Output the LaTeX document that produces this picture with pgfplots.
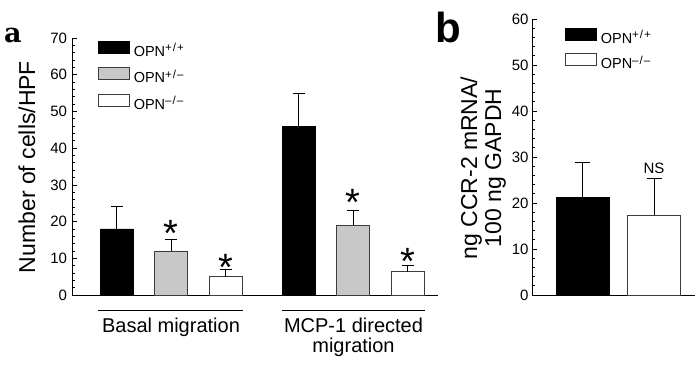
\documentclass[border=0pt]{standalone}
\usepackage{fontspec}
\setmainfont{Liberation Sans}
\newfontfamily\dvserif{DejaVu Serif}
\usepackage{pgfplots}
\usepackage{pgfplotstable}
\pgfplotsset{compat=1.18}

% panel a: x = bar centre position, y = mean, err = upper error
\pgfplotstableread{
x y err
44.5 18 6
226.5 46 9
}\aWT
\pgfplotstableread{
x y err
99 12 3
281 19 4
}\aHET
\pgfplotstableread{
x y err
153.5 5 2
335.5 6.3 1.7
}\aKO
% panel b
\pgfplotstableread{
x y err
50.5 21.3 7.6
}\bWT
\pgfplotstableread{
x y err
122 17.3 8
}\bKO

\definecolor{bargray}{RGB}{200,200,200}
\definecolor{edge}{RGB}{60,60,60}
\newcommand{\fs}[1]{\fontsize{#1}{#1}\selectfont}
\newcommand{\gt}[1]{\raisebox{4.5pt}{\fs{11.5}#1}}

\pgfplotsset{
  common/.style={
    scale only axis,
    axis x line*=bottom, axis y line*=left,
    axis line style={line width=0.9pt, black},
    xtick=\empty,
    tick align=inside,
    major tick length=5pt, minor tick length=2.5pt,
    minor y tick num=4,
    every tick/.style={black, line width=0.7pt},
    /pgf/number format/assume math mode=true,
    yticklabel={\fs{15}\pgfmathprintnumber{\tick}},
    clip=false,
    legend style={draw=none, fill=none, inner sep=0pt, outer sep=0pt,
      anchor=north west, font=\fs{14.5},
      nodes={inner sep=0pt, text height=11pt, text depth=3pt},
      column sep=4pt},
    legend cell align=left,
    legend image code/.code={\draw[##1, line width=0.8pt] (0pt,-1pt) rectangle (31pt,11pt);},
    error bars/error bar style={line width=0.9pt, black},
  },
}

\begin{document}
\begin{tikzpicture}
\useasboundingbox (0,0) rectangle (700pt,364pt);

\begin{axis}[common,
  at={(72pt,69pt)}, anchor=south west,
  width=366pt, height=257pt,
  xmin=0, xmax=366, ymin=0, ymax=70,
  ytick={0,10,...,70},
  yticklabel style={xshift=-1.5pt},
  legend style={at={(axis description cs:0.0710,0.9883)}, row sep=8pt},
  error bars/error mark options={rotate=90, mark size=6pt, line width=0.9pt, black},
]
\addplot[ybar, bar width=33, bar shift=0pt, fill=black, draw=black, line width=0.8pt,
  error bars/.cd, y dir=plus, y explicit] table[x=x, y=y, y error=err] {\aWT};
\addlegendentry{OPN\gt{+\kern1pt/\kern1pt+}}
\addplot[ybar, bar width=33, bar shift=0pt, fill=bargray, draw=edge, line width=0.8pt,
  error bars/.cd, y dir=plus, y explicit] table[x=x, y=y, y error=err] {\aHET};
\addlegendentry{OPN\gt{+\kern1pt/\kern1pt–}}
\addplot[ybar, bar width=33, bar shift=0pt, fill=white, draw=edge, line width=0.8pt,
  error bars/.cd, y dir=plus, y explicit] table[x=x, y=y, y error=err] {\aKO};
\addlegendentry{OPN\gt{–\kern1pt/\kern1pt–}}

\node[anchor=north, inner sep=0pt] at (axis cs:99,20.4) {\fs{38}*};
\node[anchor=north, inner sep=0pt] at (axis cs:153.5,11.2) {\fs{38}*};
\node[anchor=north, inner sep=0pt] at (axis cs:281,28.9) {\fs{38}*};
\node[anchor=north, inner sep=0pt] at (axis cs:335.5,12.8) {\fs{38}*};
\end{axis}

% y label panel a
\node[rotate=90, anchor=base, inner sep=0pt] at (35pt,197pt) {\fs{23}Number of cells/HPF};

% group labels under panel a
\draw[line width=0.8pt] (98pt,54pt) -- (243pt,54pt);
\draw[line width=0.8pt] (282pt,54pt) -- (425pt,54pt);
\node[anchor=base, inner sep=0pt] at (171pt,32pt) {\fs{20}Basal migration};
\node[anchor=base, inner sep=0pt] at (353.5pt,32pt) {\fs{20}MCP-1 directed};
\node[anchor=base, inner sep=0pt] at (353.5pt,12pt) {\fs{20}migration};

\begin{axis}[common,
  at={(532pt,69pt)}, anchor=south west,
  width=163pt, height=276pt,
  xmin=0, xmax=163, ymin=0, ymax=60,
  ytick={0,10,...,60},
  legend style={at={(axis description cs:0.2025,0.9674)}, row sep=7pt},
  error bars/error mark options={rotate=90, mark size=7.5pt, line width=0.9pt, black},
]
\addplot[ybar, bar width=53, bar shift=0pt, fill=black, draw=black, line width=0.8pt,
  error bars/.cd, y dir=plus, y explicit] table[x=x, y=y, y error=err] {\bWT};
\addlegendentry{OPN\gt{+\kern1pt/\kern1pt+}}
\addplot[ybar, bar width=53, bar shift=0pt, fill=white, draw=edge, line width=0.8pt,
  error bars/.cd, y dir=plus, y explicit] table[x=x, y=y, y error=err] {\bKO};
\addlegendentry{OPN\gt{–\kern1pt/\kern1pt–}}
\node[anchor=base, inner sep=0pt] at (axis cs:122,26.5) {\fs{15}NS};
\end{axis}

% y label panel b
\node[rotate=90, anchor=base, inner sep=0pt] at (477pt,196pt) {\fs{23}ng CCR-2 mRNA/};
\node[rotate=90, anchor=base, inner sep=0pt] at (501pt,196pt) {\fs{23}100 ng GAPDH};

% panel letters
\node[anchor=base west, inner sep=0pt] at (4pt,321pt) {\dvserif\bfseries\fs{27}a};
\node[anchor=base west, inner sep=0pt] at (435pt,321pt) {\bfseries\fs{42}b};
\end{tikzpicture}
\end{document}
